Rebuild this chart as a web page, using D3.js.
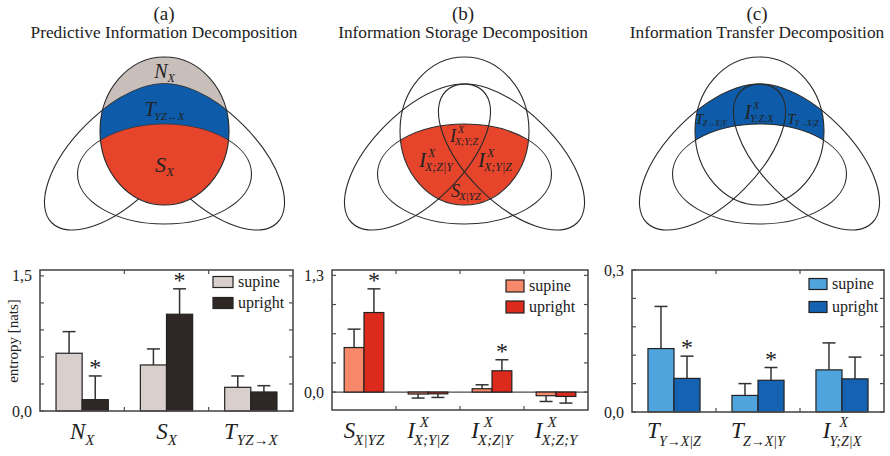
<!DOCTYPE html>
<html>
<head>
<meta charset="utf-8">
<script src="https://cdn.jsdelivr.net/npm/d3@7"></script>
<style>
  body { margin: 0; background: #fff; }
  svg { display: block; }
  text { font-family: "Liberation Serif", "Times New Roman", serif; fill: #222; }
</style>
</head>
<body>
<svg id="chart" width="890" height="456"></svg>
<script>
// ---- data -------------------------------------------------------------
const series = ["supine", "upright"];

// (a) predictive information decomposition
const predLabels = [{b: "N", sub: "X"}, {b: "S", sub: "X"}, {b: "T", sub: "YZ\u2192X"}];
const predSupine = [0.641, 0.511, 0.263];
const predSupineErr = [0.240, 0.178, 0.126];
const predUpright = [0.126, 1.074, 0.211];
const predUprightErr = [0.263, 0.282, 0.070];
const predSig = [true, true, false];
const predTicks = [0, 0.3, 0.6, 0.9, 1.2, 1.5];
const predTickLabels = [[0, "0,0"], [1.5, "1,5"]];

// (b) information storage decomposition
const storLabels = [{b: "S", sub: "X|YZ"}, {b: "I", sup: "X", sub: "X;Y|Z"},
                    {b: "I", sup: "X", sub: "X;Z|Y"}, {b: "I", sup: "X", sub: "X;Z;Y"}];
const storSupine = [0.496, -0.022, 0.037, -0.041];
const storSupineErr = [0.205, 0.045, 0.044, 0.064];
const storUpright = [0.886, -0.020, 0.237, -0.049];
const storUprightErr = [0.264, 0.040, 0.123, 0.074];
const storSig = [true, false, true, false];
const storTicks = [0, 0.325, 0.65, 0.975, 1.3];
const storTickLabels = [[0, "0,0"], [1.3, "1,3"]];

// (c) information transfer decomposition
const transLabels = [{b: "T", sub: "Y\u2192X|Z"}, {b: "T", sub: "Z\u2192X|Y"}, {b: "I", sup: "X", sub: "Y;Z|X"}];
const transSupine = [0.134, 0.035, 0.089];
const transSupineErr = [0.089, 0.025, 0.057];
const transUpright = [0.071, 0.067, 0.070];
const transUprightErr = [0.047, 0.027, 0.046];
const transSig = [true, true, false];
const transTicks = [0, 0.06, 0.12, 0.18, 0.24, 0.3];
const transTickLabels = [[0, "0,0"], [0.3, "0,3"]];

// ---- colours ----------------------------------------------------------
const col = {
  predSupine: "#d9d0ce", predUpright: "#2f2725",
  storSupine: "#f7886a", storUpright: "#dc2b1d",
  transSupine: "#4fa4dd", transUpright: "#1462b1",
  vennGrey: "#c8beba", vennBlue: "#0e5ca9", vennRed: "#e6452c",
  line: "#2a2a2a", frame: "#4d4d4d"
};

const svg = d3.select("#chart");

// ---- italic label with sub/superscript ---------------------------------
function mathText(g, x, y, lab, s) {
  const grp = g.append("g");
  const bt = grp.append("text").attr("font-style", "italic")
    .attr("font-size", s.size).attr("y", y).text(lab.b);
  const bw = bt.node().getComputedTextLength();
  let w2 = 0;
  let st = null, pt = null;
  if (lab.sub) {
    st = grp.append("text").attr("font-style", "italic")
      .attr("font-size", s.subSize).attr("y", y + s.subDy).text(lab.sub);
    w2 = Math.max(w2, st.node().getComputedTextLength() + (s.subShift || 0));
  }
  if (lab.sup) {
    pt = grp.append("text").attr("font-style", "italic")
      .attr("font-size", s.subSize).attr("y", y - s.supDy).text(lab.sup);
    w2 = Math.max(w2, pt.node().getComputedTextLength() + (s.supShift || 0));
  }
  const gap = s.gap || 0;
  const x0 = x - (bw + gap + w2) / 2;
  bt.attr("x", x0);
  if (st) st.attr("x", x0 + bw + gap + (s.subShift || 0));
  if (pt) pt.attr("x", x0 + bw + gap + (s.supShift || 0));
  return grp;
}

// ---- Venn diagrams -----------------------------------------------------
const shapeX = {cy: 131, rx: 64.5, ry: 74};      // present state X_n
const shapePast = {cy: 174, rx: 87, ry: 50};      // past of X
const lobe = {dx: 47, cy: 157, rx: 93, ry: 45, angle: 45};  // pasts of Y and Z

function ellipse(sel, cx, sh, angle) {
  const e = sel.append("ellipse").attr("cx", cx).attr("cy", sh.cy)
    .attr("rx", sh.rx).attr("ry", sh.ry);
  if (angle) e.attr("transform", `rotate(${angle},${cx},${sh.cy})`);
  return e;
}

function drawVenn(cx, id, mode) {
  const g = svg.append("g");
  g.append("defs").append("clipPath").attr("id", "clipX" + id)
    .call(c => ellipse(c, cx, shapeX));
  const lobes = [{x: cx - lobe.dx, a: -lobe.angle}, {x: cx + lobe.dx, a: lobe.angle}];
  const drawLobes = (sel) => lobes.map(l => ellipse(sel, l.x, lobe, l.a));
  const outline = (e) => e.attr("fill", "none").attr("stroke", col.line).attr("stroke-width", 1.1);

  if (mode === "pred") {
    // outlines of the three pasts, then the filled present-state circle on top
    drawLobes(g).forEach(outline);
    outline(ellipse(g, cx, shapePast));
    const inX = g.append("g").attr("clip-path", `url(#clipX${id})`);
    ellipse(inX, cx, shapeX).attr("fill", col.vennGrey);
    drawLobes(inX).forEach(e => e.attr("fill", col.vennBlue).attr("stroke", "#333").attr("stroke-width", 1.4));
    drawLobes(inX).forEach(e => e.attr("fill", col.vennBlue));
    ellipse(inX, cx, shapePast).attr("fill", col.vennRed).attr("stroke", "#333").attr("stroke-width", 0.7);
    outline(ellipse(g, cx, shapeX));
  } else {
    const inX = g.append("g").attr("clip-path", `url(#clipX${id})`);
    if (mode === "stor") {
      ellipse(inX, cx, shapePast).attr("fill", col.vennRed);
    } else {
      drawLobes(inX).forEach(e => e.attr("fill", col.vennBlue));
      ellipse(inX, cx, shapePast).attr("fill", "#fff");
    }
    drawLobes(g).forEach(outline);
    outline(ellipse(g, cx, shapePast));
    outline(ellipse(g, cx, shapeX));
  }
  return g;
}

function title(cx, letter, text) {
  svg.append("text").attr("x", cx).attr("y", 20).attr("text-anchor", "middle")
    .attr("font-size", 19).text(letter);
  svg.append("text").attr("x", cx).attr("y", 38).attr("text-anchor", "middle")
    .attr("font-size", 17.3).text(text);
}

// (a)
title(164, "(a)", "Predictive Information Decomposition");
const va = drawVenn(164.5, "a", "pred");
mathText(va, 164.5, 78, {b: "N", sub: "X"}, {size: 20, subSize: 12, subDy: 4, subShift: 0});
mathText(va, 164.5, 116, {b: "T", sub: "YZ\u2192X"}, {size: 20, subSize: 11, subDy: 4, subShift: -1});
mathText(va, 164.5, 172, {b: "S", sub: "X"}, {size: 22, subSize: 13, subDy: 4, subShift: 0});

// (b)
title(463, "(b)", "Information Storage Decomposition");
const vb = drawVenn(464.5, "b", "stor");
mathText(vb, 464, 142, {b: "I", sup: "X", sub: "X;Y;Z"}, {size: 18, subSize: 10, subDy: 3, supDy: 9, subShift: -1, supShift: 2});
mathText(vb, 436, 167, {b: "I", sup: "X", sub: "X;Z|Y"}, {size: 21, subSize: 12, subDy: 4, supDy: 10, subShift: -1, supShift: 2});
mathText(vb, 495, 167, {b: "I", sup: "X", sub: "X;Y|Z"}, {size: 21, subSize: 12, subDy: 4, supDy: 10, subShift: -1, supShift: 2});
mathText(vb, 466, 197, {b: "S", sub: "X|YZ"}, {size: 18, subSize: 11, subDy: 3, subShift: -1});

// (c)
title(757, "(c)", "Information Transfer Decomposition");
const vc = drawVenn(759.5, "c", "trans");
mathText(vc, 759, 119, {b: "I", sup: "X", sub: "Y;Z;X"}, {size: 20, subSize: 10, subDy: 3, supDy: 10, subShift: -1, supShift: 2});
mathText(vc, 711, 124, {b: "T", sub: "Z\u2192X|Y"}, {size: 15, subSize: 8, subDy: 2, subShift: -1});
mathText(vc, 803, 124, {b: "T", sub: "Y\u2192X|Z"}, {size: 15, subSize: 8, subDy: 2, subShift: -1});

// ---- bar panels --------------------------------------------------------
function barPanel(o) {
  const g = svg.append("g");
  const x = d3.scaleBand().domain(d3.range(o.labels.length)).range([o.x0, o.x1]).padding(0);
  const bw = x.bandwidth();
  const xs = d3.scaleBand().domain(series).range([bw * 0.19, bw * 0.81]).padding(0);
  const y = d3.scaleLinear().domain(o.domain).range([o.yBottom, o.yTop]);

  // inner ticks on all four sides
  const tl = 4;
  const tk = g.append("g").attr("stroke", col.frame).attr("stroke-width", 1.2);
  o.ticks.forEach(v => {
    tk.append("line").attr("x1", o.x0).attr("x2", o.x0 + tl).attr("y1", y(v)).attr("y2", y(v));
    tk.append("line").attr("x1", o.x1).attr("x2", o.x1 - tl).attr("y1", y(v)).attr("y2", y(v));
  });
  d3.range(1, o.labels.length).forEach(i => {
    const xv = x(i);
    tk.append("line").attr("x1", xv).attr("x2", xv).attr("y1", o.yTop).attr("y2", o.yTop + tl);
    tk.append("line").attr("x1", xv).attr("x2", xv).attr("y1", o.yBottom).attr("y2", o.yBottom - tl);
  });

  // zero line
  if (o.domain[0] < 0) {
    g.append("line").attr("x1", o.x0).attr("x2", o.x1).attr("y1", y(0)).attr("y2", y(0))
      .attr("stroke", col.frame).attr("stroke-width", 1.3);
  }

  const vals = [o.supine, o.upright], errs = [o.supineErr, o.uprightErr], cols = [o.cSup, o.cUp];
  series.forEach((s, si) => {
    vals[si].forEach((v, i) => {
      const bx = x(i) + xs(s), w = xs.bandwidth(), cxB = bx + w / 2;
      const e = v >= 0 ? v + errs[si][i] : v - errs[si][i];
      g.append("line").attr("x1", cxB).attr("x2", cxB).attr("y1", y(v)).attr("y2", y(e))
        .attr("stroke", "#333").attr("stroke-width", 1.5);
      g.append("line").attr("x1", cxB - 6.5).attr("x2", cxB + 6.5).attr("y1", y(e)).attr("y2", y(e))
        .attr("stroke", "#333").attr("stroke-width", 1.5);
      g.append("rect").attr("x", bx).attr("width", w)
        .attr("y", Math.min(y(v), y(0))).attr("height", Math.max(1, Math.abs(y(v) - y(0))))
        .attr("fill", cols[si]).attr("stroke", "#222").attr("stroke-width", 1.2);
      if (si === 1 && o.sig[i]) {
        g.append("text").attr("x", cxB).attr("y", y(e) - 1).attr("text-anchor", "middle")
          .attr("font-size", 24).style("fill", "#222").text("*");
      }
    });
  });

  // frame
  g.append("rect").attr("x", o.x0).attr("y", o.yTop).attr("width", o.x1 - o.x0)
    .attr("height", o.yBottom - o.yTop).attr("fill", "none")
    .attr("stroke", col.frame).attr("stroke-width", 1.6);

  // tick labels
  o.tickLabels.forEach(([v, t]) => {
    g.append("text").attr("x", o.x0 - 8).attr("y", y(v)).attr("dy", "0.35em")
      .attr("text-anchor", "end").attr("font-size", 16).text(t);
  });

  // category labels
  o.labels.forEach((lab, i) => {
    mathText(g, x(i) + bw / 2 + (o.labelShift || 0), o.labelY, lab, o.labelStyle);
  });

  // legend
  series.forEach((s, si) => {
    const ly = o.legendY + si * o.legendStep;
    g.append("rect").attr("x", o.legendX).attr("y", ly - o.boxH / 2).attr("width", o.boxW).attr("height", o.boxH)
      .attr("fill", cols[si]).attr("stroke", "#222").attr("stroke-width", 1.2);
    g.append("text").attr("x", o.legendX + o.boxW + 5).attr("y", ly).attr("dy", "0.32em")
      .attr("font-size", 16).text(s);
  });
  return g;
}

barPanel({
  x0: 40, x1: 293, yTop: 270, yBottom: 411, domain: [0, 1.565],
  ticks: predTicks, tickLabels: predTickLabels, labels: predLabels,
  supine: predSupine, supineErr: predSupineErr, upright: predUpright, uprightErr: predUprightErr,
  sig: predSig, cSup: col.predSupine, cUp: col.predUpright,
  labelY: 439, labelStyle: {size: 23, subSize: 15, subDy: 6, subShift: 0},
  legendX: 213, legendY: 282, legendStep: 21, boxW: 20, boxH: 11
});

barPanel({
  x0: 332, x1: 588, yTop: 270, yBottom: 410, domain: [-0.2, 1.36],
  ticks: storTicks, tickLabels: storTickLabels, labels: storLabels,
  supine: storSupine, supineErr: storSupineErr, upright: storUpright, uprightErr: storUprightErr,
  sig: storSig, cSup: col.storSupine, cUp: col.storUpright,
  labelY: 438, labelStyle: {size: 23, subSize: 15, subDy: 7, supDy: 11, subShift: -1, supShift: 5},
  legendX: 506, legendY: 286, legendStep: 21, boxW: 18, boxH: 12
});

barPanel({
  x0: 632, x1: 884, yTop: 270, yBottom: 412, domain: [0, 0.3],
  ticks: transTicks, tickLabels: transTickLabels, labels: transLabels,
  supine: transSupine, supineErr: transSupineErr, upright: transUpright, uprightErr: transUprightErr,
  sig: transSig, cSup: col.transSupine, cUp: col.transUpright,
  labelY: 438, labelStyle: {size: 23, subSize: 14, subDy: 8, supDy: 11, subShift: -1, supShift: 9},
  legendX: 809, legendY: 284, legendStep: 23, boxW: 18, boxH: 11
});

// y axis title
svg.append("text").attr("transform", "translate(18,341) rotate(-90)")
  .attr("text-anchor", "middle").attr("font-size", 15).text("entropy [nats]");
</script>
</body>
</html>
